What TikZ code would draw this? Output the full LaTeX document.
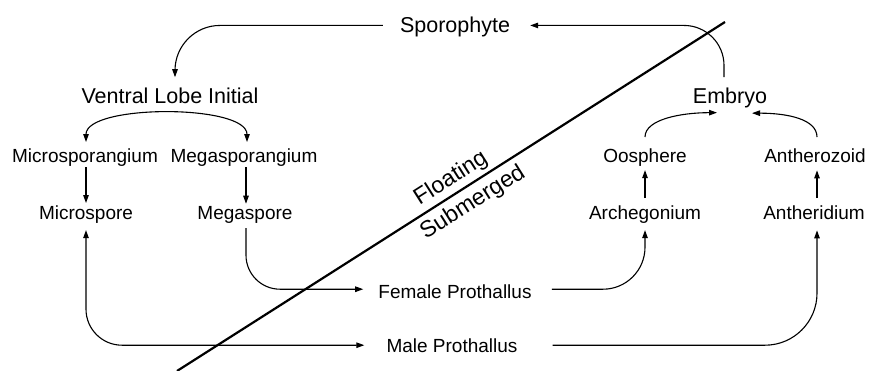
\documentclass[tikz,border=0pt]{standalone}
\usepackage{fontspec}
\setmainfont{Liberation Sans}
\usetikzlibrary{arrows.meta}
\begin{document}
\begin{tikzpicture}[x=1pt,y=-1pt,
  big/.style={font=\fontsize{21.5}{24}\selectfont, inner sep=0pt, anchor=base},
  small/.style={font=\fontsize{19}{22}\selectfont, inner sep=0pt, anchor=base},
  zone/.style={font=\fontsize{23}{26}\selectfont, inner sep=0pt, anchor=center, rotate=32.4},
  conn/.style={line width=1.1pt, -{Triangle[length=8pt,width=5.5pt]}},
  bothconn/.style={line width=1.1pt, {Triangle[length=8pt,width=5.5pt]}-{Triangle[length=8pt,width=5.5pt]}},
  divider/.style={line width=2.2pt}]
\useasboundingbox (0,0) rectangle (869,371);

% nodes
\node[big] (spor) at (455,33) {Sporophyte};
\node[big] (vli) at (170,104) {Ventral Lobe Initial};
\node[big] (emb) at (730,104) {Embryo};
\node[small] (msg) at (85,163) {Microsporangium};
\node[small] (megsg) at (244,163) {Megasporangium};
\node[small] (oos) at (645,163) {Oosphere};
\node[small] (anz) at (815,163) {Antherozoid};
\node[small] (mic) at (86,220) {Microspore};
\node[small] (meg) at (245,220) {Megaspore};
\node[small] (arc) at (645,220) {Archegonium};
\node[small] (ant) at (814,220) {Antheridium};
\node[small] (fem) at (455,298) {Female Prothallus};
\node[small] (male) at (452,352) {Male Prothallus};

% divider line and labels
\coordinate (ltop) at (725,22);
\coordinate (lbot) at (177,371);
\draw[divider] (ltop) -- (lbot);
\node[zone] (flo) at (451,179) {Floating};
\node[zone] (sub) at (473,203) {Submerged};

% connectors
\draw[conn, rounded corners=40pt, shorten <=11pt, shorten >=20pt]
  ([xshift=-6pt]emb.north) |- ([yshift=2pt]spor.east);
\draw[conn, rounded corners=45pt, shorten <=17pt, shorten >=11pt]
  ([yshift=2pt]spor.west) -| ([xshift=5pt]vli.north);
\draw[bothconn, shorten <=7pt, shorten >=7pt]
  ([xshift=1pt]msg.north) .. controls +(0,-45) and +(0,-45) .. ([xshift=3pt]megsg.north);
\draw[conn, shorten >=3pt] ([xshift=1pt]msg.south) -- ([xshift=1pt]msg.south |- mic.north);
\draw[conn, shorten >=3pt] ([xshift=2pt]megsg.south) -- ([xshift=2pt]megsg.south |- meg.north);
\draw[conn, rounded corners=34pt, shorten <=4pt, shorten >=15pt]
  ([xshift=1pt]meg.south) |- ([yshift=2pt]fem.west);
\draw[bothconn, rounded corners=36pt, shorten <=6pt, shorten >=22pt]
  (mic.south) |- (male.west);
\draw[conn, rounded corners=42pt, shorten <=20pt, shorten >=6pt]
  ([yshift=2pt]fem.east) -| (arc.south);
\draw[conn, rounded corners=52pt, shorten <=35pt, shorten >=10pt]
  (male.east) -| ([xshift=3pt]ant.south);
\draw[conn, shorten <=8pt, shorten >=3pt] (arc.north) -- (oos.south);
\draw[conn, shorten <=8pt, shorten >=7pt] ([xshift=3pt]ant.north) -- ([xshift=2pt]anz.south);
\draw[conn] ([yshift=12pt]oos.north) .. controls +(0,-18) and +(-35,0) .. ([xshift=-13pt,yshift=-4pt]emb.south);
\draw[conn] ([xshift=2pt,yshift=12pt]anz.north) .. controls +(0,-18) and +(35,0) .. ([xshift=22pt,yshift=-4.5pt]emb.south);
\end{tikzpicture}
\end{document}
